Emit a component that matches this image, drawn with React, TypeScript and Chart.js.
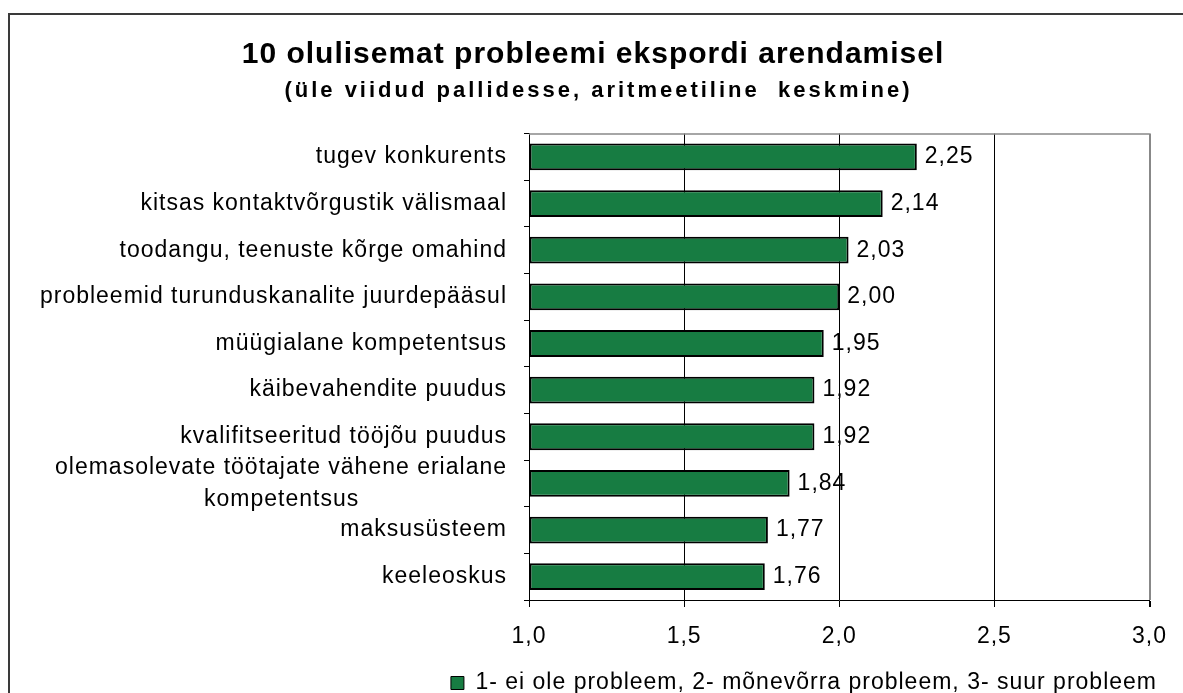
import React, { useEffect, useRef } from 'react';
import { Chart, registerables } from 'chart.js';

Chart.register(...registerables);

const FONT = "'Liberation Sans', Arial, sans-serif";

const TITLE = '10 olulisemat probleemi ekspordi arendamisel';
const SUBTITLE = '(üle viidud pallidesse, aritmeetiline  keskmine)';
const LEGEND_LABEL = '1- ei ole probleem, 2- mõnevõrra probleem, 3- suur probleem';

const categories: (string | string[])[] = [
  'tugev konkurents',
  'kitsas kontaktvõrgustik välismaal',
  'toodangu, teenuste kõrge omahind',
  'probleemid turunduskanalite juurdepääsul',
  'müügialane kompetentsus',
  'käibevahendite puudus',
  'kvalifitseeritud tööjõu puudus',
  ['olemasolevate töötajate vähene erialane', 'kompetentsus'],
  'maksusüsteem',
  'keeleoskus',
];

const values = [2.25, 2.14, 2.03, 2.0, 1.95, 1.92, 1.92, 1.84, 1.77, 1.76];

const xTicks = [1.0, 1.5, 2.0, 2.5, 3.0];

const BAR_COLOR = '#177C42';
const SPACING = '1px';

const spacingPlugin = {
  id: 'letterSpacing',
  beforeUpdate(chart: any) {
    chart.ctx.letterSpacing = SPACING;
  },
  beforeLayout(chart: any) {
    chart.ctx.letterSpacing = SPACING;
  },
  beforeDraw(chart: any) {
    chart.ctx.letterSpacing = SPACING;
  },
};

const topBorderPlugin = {
  id: 'topBorder',
  beforeDatasetsDraw(chart: any) {
    const { ctx, chartArea } = chart;
    ctx.save();
    ctx.strokeStyle = '#888';
    ctx.lineWidth = 1.5;
    ctx.beginPath();
    ctx.moveTo(chartArea.left, chartArea.top + 0.5);
    ctx.lineTo(chartArea.right, chartArea.top + 0.5);
    ctx.stroke();
    ctx.restore();
  },
};

const valueLabelPlugin = {
  id: 'valueLabels',
  afterDatasetsDraw(chart: any) {
    const ctx = chart.ctx;
    const meta = chart.getDatasetMeta(0);
    ctx.save();
    ctx.font = `23px ${FONT}`;
    ctx.fillStyle = '#000';
    ctx.textAlign = 'left';
    ctx.textBaseline = 'middle';
    meta.data.forEach((el: any, i: number) => {
      ctx.fillText(values[i].toFixed(2).replace('.', ','), el.x + 8, el.y);
    });
    ctx.restore();
  },
};

const subtitlePlugin = {
  id: 'subtitleSpaced',
  afterDraw(chart: any) {
    const ctx = chart.ctx;
    ctx.save();
    ctx.font = `bold 22px ${FONT}`;
    ctx.letterSpacing = '3px';
    ctx.fillStyle = '#000';
    ctx.textAlign = 'center';
    ctx.textBaseline = 'alphabetic';
    ctx.fillText(SUBTITLE, chart.width / 2 + 3, 89);
    ctx.restore();
  },
};

export default function App() {
  const ref = useRef<HTMLCanvasElement>(null);

  useEffect(() => {
    const canvas = ref.current!;
    const chart = new Chart(canvas, {
      type: 'bar',
      data: {
        labels: categories as any,
        datasets: [
          {
            label: LEGEND_LABEL,
            data: values,
            base: 1,
            backgroundColor: BAR_COLOR,
            borderColor: '#000',
            borderWidth: 2,
            borderSkipped: false,
            barPercentage: 0.575,
            categoryPercentage: 1,
          } as any,
        ],
      },
      options: {
        indexAxis: 'y',
        responsive: false,
        animation: false,
        events: [],
        layout: { padding: { left: 21, right: 26, top: 0, bottom: -11.5 } },
        scales: {
          x: {
            type: 'linear',
            min: 1,
            max: 3,
            afterBuildTicks: (s: any) => {
              s.ticks = xTicks.map((v) => ({ value: v }));
            },
            afterFit: (s: any) => {
              s.height = 71.5;
            },
            ticks: {
              color: '#000',
              font: { family: FONT, size: 23 },
              padding: 16,
              maxRotation: 0,
              callback: (v: any) => Number(v).toFixed(1).replace('.', ','),
            },
            grid: {
              color: (c: any) => (c.tick && c.tick.value === 3 ? '#888' : '#000'),
              lineWidth: (c: any) => (c.tick && c.tick.value === 3 ? 2 : 1),
              tickColor: '#000',
              tickLength: 7,
              drawOnChartArea: true,
            },
            border: { color: '#000', width: 1 },
          },
          y: {
            type: 'category',
            afterFit: (s: any) => {
              s.width = 500;
            },
            ticks: {
              color: '#000',
              font: { family: FONT, size: 23, lineHeight: 1.4 },
              padding: 17,
              autoSkip: false,
              callback: (_v: any, i: number) => {
                const l = categories[i];
                return Array.isArray(l)
                  ? l.map((t, j) => (j === 0 ? t : t + ' '.repeat(20)))
                  : l;
              },
            },
            grid: {
              drawOnChartArea: false,
              tickLength: 5,
              color: '#000',
              offset: true,
            },
            border: { color: '#000', width: 1 },
          },
        },
        plugins: {
          title: {
            display: true,
            text: TITLE,
            color: '#000',
            font: { family: FONT, size: 30, weight: 'bold' },
            padding: { top: 28.8, bottom: 60.8 },
          },
          legend: {
            position: 'bottom',
            align: 'end',
            labels: {
              color: '#000',
              font: { family: FONT, size: 23 },
              boxWidth: 13,
              boxHeight: 13,
              padding: 0,
              generateLabels: (c: any) =>
                (Chart.defaults.plugins.legend.labels as any)
                  .generateLabels(c)
                  .map((l: any) => ({ ...l, lineWidth: 1, strokeStyle: '#000' })),
            },
          },
          tooltip: { enabled: false },
        },
      } as any,
      plugins: [spacingPlugin, topBorderPlugin, valueLabelPlugin, subtitlePlugin],
    });
    return () => chart.destroy();
  }, []);

  return (
    <div>
      <div
        style={{
          position: 'absolute',
          left: 8,
          top: 13,
          width: 1175,
          height: 680,
          boxSizing: 'border-box',
          borderLeft: '2px solid #3a3a3a',
          borderTop: '2px solid #3a3a3a',
        }}
      />
      <canvas
        ref={ref}
        width={1175}
        height={685}
        style={{ position: 'absolute', left: 8, top: 8, display: 'block' }}
      />
    </div>
  );
}
